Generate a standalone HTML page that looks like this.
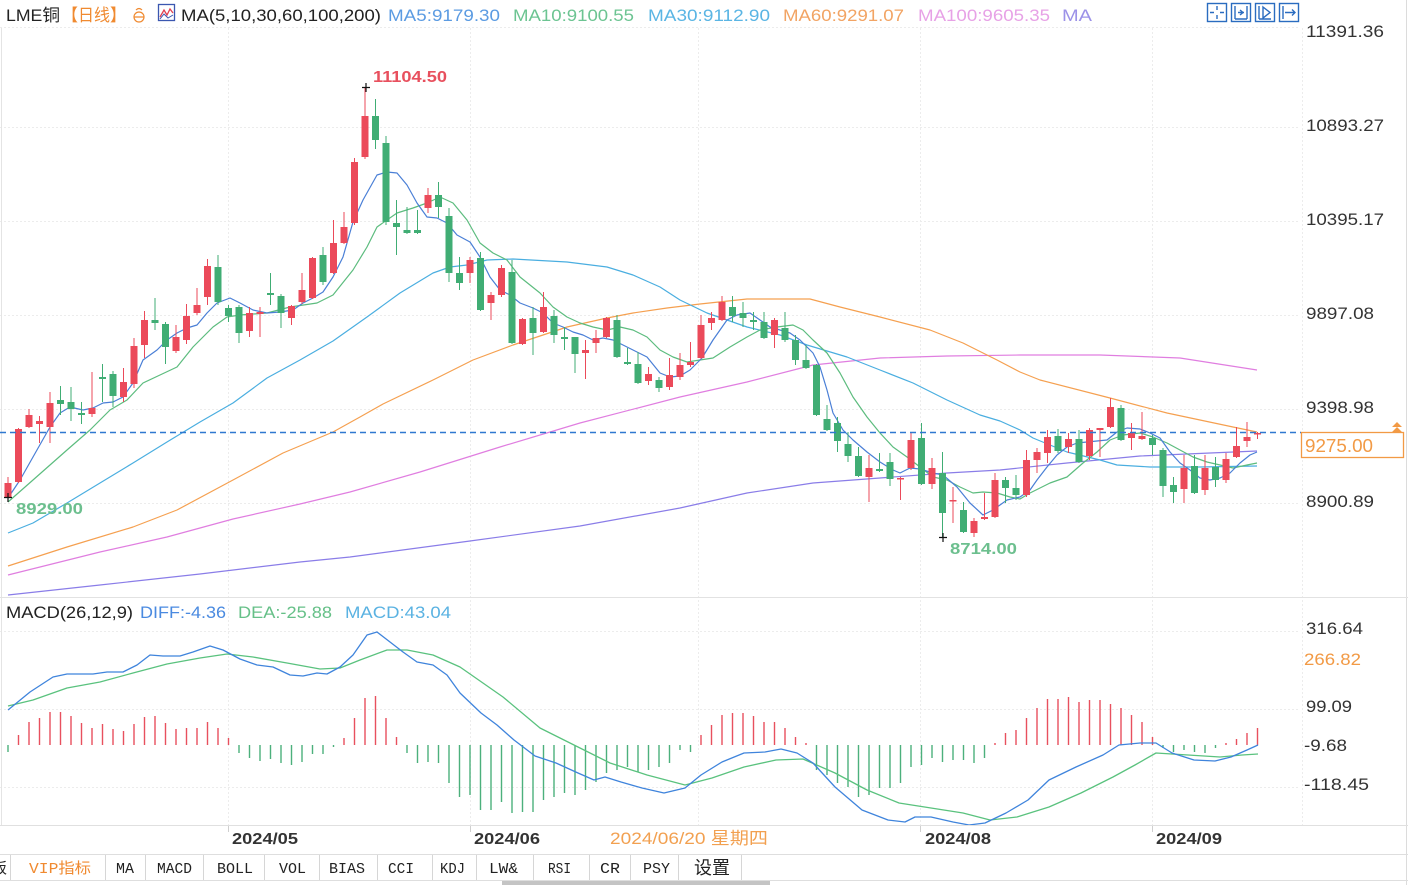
<!DOCTYPE html>
<html><head><meta charset="utf-8"><style>
html,body{margin:0;padding:0;background:#fff;}
svg{display:block;font-family:"Liberation Sans","Noto Sans CJK SC",sans-serif;}
</style></head><body>
<svg width="1408" height="885" viewBox="0 0 1408 885" xmlns="http://www.w3.org/2000/svg">
<rect x="0" y="0" width="1408" height="885" fill="#fff"/>
<!-- grid -->
<g stroke="#ececec" stroke-width="1" stroke-dasharray="2 2" fill="none">
<path d="M0 27.5H1300 M0 127.5H1300 M0 221.5H1300 M0 315.5H1300 M0 409.5H1300 M0 503.5H1300"/>
<path d="M0 631.5H1300 M0 709.5H1300 M0 787.5H1300"/>
<path d="M228.5 28V825 M470.5 28V825 M698.5 28V825 M920.5 28V825 M1152.5 28V825 M1302.5 28V825"/>
</g>
<line x1="1.5" y1="28" x2="1.5" y2="825" stroke="#e4e4e4"/>
<line x1="1406.5" y1="0" x2="1406.5" y2="885" stroke="#dcdcdc"/>
<line x1="0" y1="597.5" x2="1408" y2="597.5" stroke="#e2e2e2"/>

<!-- MA lines -->
<g fill="none" stroke-width="1.2" stroke-linejoin="round">
<polyline stroke="#8a7de8" points="8,595 100,585 200,574 300,562 350,557 470,541 580,526 680,508 747,493 813,483 880,478 947,473 1000,470 1067,463 1140,456 1257,451"/>
<polyline stroke="#e07ee0" points="8,575 100,552 167,537 233,519 300,504 350,492 420,472 500,447 580,423 680,397 747,382 813,365 880,358 947,356 1020,355 1100,355 1180,358 1257,370"/>
<polyline stroke="#f5a050" points="8,566 67,547 133,527 177,510 233,480 283,453 333,432 360,417 383,404 433,380 473,360 513,345 567,327 607,318 633,313 667,308 700,304 747,299 810,299 840,307 880,317 930,330 963,343 997,360 1020,372 1040,380 1110,398 1167,413 1233,427 1257,432"/>
<polyline stroke="#4aaee0" points="8,533 33,523 67,503 100,483 133,463 167,442 200,422 233,403 267,378 300,360 333,341 367,317 400,293 433,273 450,267 467,265 487,260 513,259 567,262 607,267 633,275 660,287 680,300 707,313 747,327 780,335 807,345 847,357 880,370 913,383 947,400 980,415 1000,421 1020,430 1033,438 1067,452 1100,460 1117,465 1150,467 1200,467 1257,466"/>
<polyline stroke="#5cbc7e" points="8,502 33,480 67,450 90,430 110,410 127,400 143,383 160,375 177,367 193,347 213,327 227,317 240,315 267,313 290,307 317,303 333,295 353,270 367,247 377,227 397,213 413,208 427,203 440,197 453,203 467,220 480,243 493,253 507,260 520,277 540,293 553,307 567,317 580,323 593,327 607,330 620,327 633,330 647,337 660,350 673,357 687,362 700,360 713,358 730,347 747,337 760,330 777,327 793,325 803,330 813,340 827,353 840,373 853,397 867,417 880,433 893,447 907,457 920,467 933,477 947,480 960,487 973,493 983,492 997,493 1010,497 1020,499 1030,493 1050,483 1067,477 1083,463 1097,452 1110,440 1123,435 1140,433 1153,437 1167,443 1180,450 1193,457 1207,462 1220,465 1233,468 1247,465 1257,463"/>
<polyline stroke="#4a7fd6" points="8,498 20,480 33,457 50,427 60,413 70,407 83,410 93,408 103,403 113,402 123,397 133,383 143,360 157,350 167,340 177,333 187,328 197,325 207,313 217,303 230,298 240,303 253,310 267,313 280,312 293,310 303,303 313,298 323,292 333,277 343,257 353,222 363,200 377,175 387,172 397,173 407,185 417,203 427,217 437,218 447,223 457,235 470,242 480,257 490,277 500,290 510,295 520,303 533,308 543,313 553,323 563,327 573,332 583,335 593,340 603,338 613,340 623,345 633,350 647,357 660,373 670,377 680,376 690,370 702,358 713,340 727,320 737,315 750,313 760,320 770,327 780,330 790,333 800,340 813,353 820,367 827,390 833,413 843,430 853,440 867,452 880,462 893,470 900,473 910,468 920,469 933,473 943,475 957,487 970,503 983,515 993,510 1007,500 1020,497 1030,490 1037,480 1047,467 1057,455 1067,447 1077,443 1087,442 1097,441 1107,440 1117,432 1127,428 1140,429 1150,433 1160,438 1170,452 1180,463 1190,470 1200,478 1210,480 1220,478 1230,473 1240,463 1250,455 1257,452"/>
</g>

<!-- red candles -->
<g fill="#eb4a5a">
<path stroke="#eb4a5a" stroke-width="1" fill="none" d="M8 477V498 M18.5 428V483 M29 409V428 M39.5 416V443 M50 392V443 M92 372V417 M123.5 368V402 M134 338V388 M144.5 311V358 M176 325V353 M186.5 304V344 M197 288V315 M207.5 259V305 M249.5 307V337 M260 307V337 M291.5 305V325 M302 273V304 M312.5 257V299 M333.5 220V274 M344 212V244 M354.5 158V225 M365 87V159 M428 188V213 M470 257V283 M491 292V320 M501.5 265V297 M522.5 318V345 M543.5 292V333 M585.5 340V379 M596 330V353 M606.5 317V338 M648.5 367V385 M669.5 358V390 M680 353V380 M690.5 342V367 M701 315V359 M711.5 312V330 M722 296V321 M774.5 318V348 M869 455V502 M900.5 477V500 M911 433V470 M932 458V489 M953 487V523 M974 518V537 M984.5 493V520 M995 473V518 M1026.5 450V497 M1037 448V473 M1047.5 430V463 M1068.5 433V453 M1089.5 428V460 M1100 428V457 M1110.5 398V428 M1131.5 423V450 M1142 412V440 M1184 455V503 M1205 455V495 M1226 453V483 M1236.5 427V458 M1247 422V447 M1257.5 432V439"/>
<rect x="4.5" y="483" width="7" height="14"/><rect x="15" y="429" width="7" height="53"/><rect x="25.5" y="415" width="7" height="12"/><rect x="36" y="421" width="7" height="3"/><rect x="46.5" y="403" width="7" height="24"/><rect x="88.5" y="408" width="7" height="6"/><rect x="120" y="382" width="7" height="15"/><rect x="130.5" y="346" width="7" height="38"/><rect x="141" y="320" width="7" height="25"/><rect x="172.5" y="337" width="7" height="14"/><rect x="183" y="316" width="7" height="24"/><rect x="193.5" y="305" width="7" height="8"/><rect x="204" y="266" width="7" height="31"/><rect x="246" y="313" width="7" height="18"/><rect x="256.5" y="312" width="7" height="2"/><rect x="288" y="306" width="7" height="12"/><rect x="298.5" y="290" width="7" height="12"/><rect x="309" y="258" width="7" height="40"/><rect x="330" y="243" width="7" height="30"/><rect x="340.5" y="227" width="7" height="16"/><rect x="351" y="162" width="7" height="61"/><rect x="361.5" y="116" width="7" height="41"/><rect x="424.5" y="195" width="7" height="13"/><rect x="466.5" y="260" width="7" height="13"/><rect x="487.5" y="295" width="7" height="8"/><rect x="498" y="268" width="7" height="27"/><rect x="519" y="319" width="7" height="25"/><rect x="540" y="307" width="7" height="25"/><rect x="582" y="350" width="7" height="3"/><rect x="592.5" y="338" width="7" height="5"/><rect x="603" y="318" width="7" height="19"/><rect x="645" y="374" width="7" height="7"/><rect x="666" y="375" width="7" height="12"/><rect x="676.5" y="365" width="7" height="12"/><rect x="687" y="362" width="7" height="3"/><rect x="697.5" y="325" width="7" height="33"/><rect x="708" y="318" width="7" height="5"/><rect x="718.5" y="302" width="7" height="18"/><rect x="771" y="320" width="7" height="15"/><rect x="865.5" y="468" width="7" height="9"/><rect x="897" y="478" width="7" height="1.5"/><rect x="907.5" y="440" width="7" height="28"/><rect x="928.5" y="468" width="7" height="16"/><rect x="949.5" y="500" width="7" height="1.5"/><rect x="970.5" y="521" width="7" height="12"/><rect x="981" y="517" width="7" height="2"/><rect x="991.5" y="480" width="7" height="37"/><rect x="1023" y="460" width="7" height="35"/><rect x="1033.5" y="452" width="7" height="8"/><rect x="1044" y="437" width="7" height="16"/><rect x="1065" y="439" width="7" height="8"/><rect x="1086" y="430" width="7" height="26"/><rect x="1096.5" y="428" width="7" height="2"/><rect x="1107" y="407" width="7" height="20"/><rect x="1128" y="433" width="7" height="5"/><rect x="1138.5" y="436" width="7" height="3"/><rect x="1180.5" y="468" width="7" height="21"/><rect x="1201.5" y="468" width="7" height="22"/><rect x="1222.5" y="459" width="7" height="21"/><rect x="1233" y="446" width="7" height="11"/><rect x="1243.5" y="437" width="7" height="4"/><rect x="1254" y="433" width="7" height="1.5"/>
</g>
<!-- green candles -->
<g fill="#40ad74">
<path stroke="#40ad74" stroke-width="1" fill="none" d="M60.5 386V415 M71 387V421 M81.5 402V424 M102.5 364V402 M113 371V407 M155 298V330 M165.5 322V364 M218 255V305 M228.5 305V322 M239 305V343 M270.5 273V305 M281 294V328 M323 247V285 M375.5 99V149 M386 136V225 M396.5 200V255 M407 207V234 M417.5 210V234 M438.5 182V218 M449 208V282 M459.5 257V290 M480.5 252V311 M512 260V344 M533 307V355 M554 310V343 M564.5 327V350 M575 337V373 M617 315V358 M627.5 348V365 M638 352V384 M659 377V392 M732.5 296V322 M743 302V327 M753.5 312V330 M764 312V339 M785 312V342 M795.5 335V365 M806 345V369 M816.5 364V416 M827 405V431 M837.5 417V452 M848 432V462 M858.5 447V477 M879.5 453V472 M890 453V486 M921.5 423V485 M942.5 452V537 M963.5 502V533 M1005.5 477V503 M1016 475V500 M1058 429V453 M1079 430V463 M1121 405V441 M1152.5 435V455 M1163 448V497 M1173.5 477V503 M1194.5 455V494 M1215.5 457V487"/>
<rect x="57" y="400" width="7" height="4"/><rect x="67.5" y="402" width="7" height="7"/><rect x="78" y="413" width="7" height="2"/><rect x="99" y="377" width="7" height="2"/><rect x="109.5" y="374" width="7" height="22"/><rect x="151.5" y="320" width="7" height="3"/><rect x="162" y="324" width="7" height="23"/><rect x="214.5" y="267" width="7" height="35"/><rect x="225" y="308" width="7" height="8"/><rect x="235.5" y="307" width="7" height="26"/><rect x="267" y="293" width="7" height="2"/><rect x="277.5" y="296" width="7" height="17"/><rect x="319.5" y="255" width="7" height="27"/><rect x="372" y="116" width="7" height="24"/><rect x="382.5" y="143" width="7" height="79"/><rect x="393" y="223" width="7" height="4"/><rect x="403.5" y="230" width="7" height="3"/><rect x="414" y="230" width="7" height="3"/><rect x="435" y="195" width="7" height="12"/><rect x="445.5" y="216" width="7" height="57"/><rect x="456" y="273" width="7" height="10"/><rect x="477" y="258" width="7" height="52"/><rect x="508.5" y="272" width="7" height="71"/><rect x="529.5" y="318" width="7" height="15"/><rect x="550.5" y="316" width="7" height="19"/><rect x="561" y="337" width="7" height="2"/><rect x="571.5" y="337" width="7" height="17"/><rect x="613.5" y="320" width="7" height="37"/><rect x="624" y="362" width="7" height="2"/><rect x="634.5" y="364" width="7" height="19"/><rect x="655.5" y="380" width="7" height="8"/><rect x="729" y="307" width="7" height="9"/><rect x="739.5" y="313" width="7" height="5"/><rect x="750" y="320" width="7" height="2"/><rect x="760.5" y="322" width="7" height="16"/><rect x="781.5" y="328" width="7" height="12"/><rect x="792" y="340" width="7" height="20"/><rect x="802.5" y="360" width="7" height="8"/><rect x="813" y="365" width="7" height="50"/><rect x="823.5" y="419" width="7" height="11"/><rect x="834" y="423" width="7" height="18"/><rect x="844.5" y="444" width="7" height="12"/><rect x="855" y="456" width="7" height="20"/><rect x="876" y="469" width="7" height="2"/><rect x="886.5" y="462" width="7" height="17"/><rect x="918" y="438" width="7" height="46"/><rect x="939" y="473" width="7" height="40"/><rect x="960" y="510" width="7" height="22"/><rect x="1002" y="480" width="7" height="8"/><rect x="1012.5" y="488" width="7" height="7"/><rect x="1054.5" y="436" width="7" height="15"/><rect x="1075.5" y="439" width="7" height="23"/><rect x="1117.5" y="408" width="7" height="32"/><rect x="1149" y="438" width="7" height="7"/><rect x="1159.5" y="450" width="7" height="36"/><rect x="1170" y="485" width="7" height="7"/><rect x="1191" y="466" width="7" height="27"/><rect x="1212" y="467" width="7" height="13"/>
</g>

<!-- last price dashed line -->
<line x1="0" y1="432.5" x2="1301" y2="432.5" stroke="#2f78d0" stroke-width="1.5" stroke-dasharray="6 4"/>
<rect x="1301.5" y="432.5" width="102" height="25" fill="#fff" stroke="#f29a45" stroke-width="1.3"/>
<text x="1305" y="452" font-size="18" fill="#f29a45" textLength="68" lengthAdjust="spacingAndGlyphs">9275.00</text>
<path d="M1392 427 L1397 422 L1402 427 Z M1392 432 L1397 427 L1402 432 Z" fill="#f29a45"/>

<!-- extreme markers -->
<g stroke="#111" stroke-width="1.2">
<path d="M362 87.5H370 M366 83V92"/>
<path d="M4 497.5H12 M8 493V502"/>
<path d="M939 537.5H947 M943 533V542"/>
</g>
<text x="373" y="82" font-size="16" font-weight="bold" fill="#e8505e" textLength="74" lengthAdjust="spacingAndGlyphs">11104.50</text>
<text x="16" y="514" font-size="16" font-weight="bold" fill="#6cbf8e" textLength="67" lengthAdjust="spacingAndGlyphs">8929.00</text>
<text x="950" y="554" font-size="16" font-weight="bold" fill="#6cbf8e" textLength="67" lengthAdjust="spacingAndGlyphs">8714.00</text>

<!-- header -->
<g font-size="17">
<text x="6" y="21" fill="#222" textLength="54" lengthAdjust="spacingAndGlyphs">LME铜</text>
<text x="62" y="21" fill="#f08a30" textLength="64" lengthAdjust="spacingAndGlyphs">【日线】</text>
<text x="181" y="21" fill="#222" textLength="200" lengthAdjust="spacingAndGlyphs">MA(5,10,30,60,100,200)</text>
<text x="388" y="21" fill="#5b9be2" textLength="112" lengthAdjust="spacingAndGlyphs">MA5:9179.30</text>
<text x="513" y="21" fill="#6cc492" textLength="121" lengthAdjust="spacingAndGlyphs">MA10:9100.55</text>
<text x="648" y="21" fill="#5ab5e4" textLength="122" lengthAdjust="spacingAndGlyphs">MA30:9112.90</text>
<text x="783" y="21" fill="#f2a464" textLength="121" lengthAdjust="spacingAndGlyphs">MA60:9291.07</text>
<text x="918" y="21" fill="#e7a2e6" textLength="132" lengthAdjust="spacingAndGlyphs">MA100:9605.35</text>
<text x="1062" y="21" fill="#9c92e8" textLength="30" lengthAdjust="spacingAndGlyphs">MA</text>
</g>
<g fill="none" stroke="#f08a30" stroke-width="1.2">
<circle cx="139" cy="17" r="5"/><path d="M134 17H144 M136 10Q139 7 142 10"/>
</g>
<rect x="158.5" y="4.5" width="16" height="16" fill="#fff" stroke="#3b57b0" stroke-width="1.3"/>
<polyline points="160,17 164,10 167,15 170,9 173,13" fill="none" stroke="#e04050" stroke-width="1.3"/>
<polyline points="160,19 164,14 168,18 173,15" fill="none" stroke="#3b57b0" stroke-width="1"/>

<!-- top-right icons -->
<g fill="none" stroke="#2a6cc0" stroke-width="1.4">
<rect x="1207.5" y="3.5" width="19" height="18"/>
<rect x="1231.5" y="3.5" width="19" height="18"/>
<rect x="1255.5" y="3.5" width="19" height="18"/>
<rect x="1279.5" y="3.5" width="19" height="18"/>
<path d="M1217 6V10 M1217 15V19 M1210 12.5H1214 M1220 12.5H1224"/>
<path d="M1235 6V19 M1247 6V19 M1238 12.5H1244 M1240 10L1243 12.5L1240 15 M1235 19H1247"/>
<path d="M1259 6V19 M1263 7L1270 12.5L1263 18Z M1259 19H1271"/>
<path d="M1283 6V19 M1285 12.5H1295 M1292 9.5L1295 12.5L1292 15.5"/>
</g>

<!-- price axis labels -->
<g font-size="17" fill="#333">
<text x="1306" y="37" textLength="78" lengthAdjust="spacingAndGlyphs">11391.36</text>
<text x="1306" y="131" textLength="78" lengthAdjust="spacingAndGlyphs">10893.27</text>
<text x="1306" y="225" textLength="78" lengthAdjust="spacingAndGlyphs">10395.17</text>
<text x="1306" y="319" textLength="68" lengthAdjust="spacingAndGlyphs">9897.08</text>
<text x="1306" y="413" textLength="68" lengthAdjust="spacingAndGlyphs">9398.98</text>
<text x="1306" y="507" textLength="68" lengthAdjust="spacingAndGlyphs">8900.89</text>
<text x="1306" y="634" textLength="57" lengthAdjust="spacingAndGlyphs">316.64</text>
<text x="1304" y="665" fill="#f29a45" textLength="57" lengthAdjust="spacingAndGlyphs">266.82</text>
<text x="1306" y="712" textLength="46" lengthAdjust="spacingAndGlyphs">99.09</text>
<text x="1304" y="751" textLength="43" lengthAdjust="spacingAndGlyphs">-9.68</text>
<text x="1304" y="790" textLength="65" lengthAdjust="spacingAndGlyphs">-118.45</text>
</g>

<!-- MACD header -->
<g font-size="17">
<text x="6" y="618" fill="#222" textLength="127" lengthAdjust="spacingAndGlyphs">MACD(26,12,9)</text>
<text x="140" y="618" fill="#4a8ae0" textLength="86" lengthAdjust="spacingAndGlyphs">DIFF:-4.36</text>
<text x="238" y="618" fill="#66c088" textLength="94" lengthAdjust="spacingAndGlyphs">DEA:-25.88</text>
<text x="345" y="618" fill="#5ab2e2" textLength="106" lengthAdjust="spacingAndGlyphs">MACD:43.04</text>
</g>

<!-- MACD histogram -->
<path stroke="#e8505e" stroke-width="1.4" fill="none" d="M18.5 745V735 M29 745V722 M39.5 745V718 M50 745V712 M60.5 745V712 M71 745V716 M81.5 745V723 M92 745V728 M102.5 745V724 M113 745V729 M123.5 745V731 M134 745V724 M144.5 745V717 M155 745V716 M165.5 745V723 M176 745V729 M186.5 745V728 M197 745V728 M207.5 745V722 M218 745V728 M228.5 745V738 M344 745V738 M354.5 745V718 M365 745V698 M375.5 745V696 M386 745V718 M396.5 745V737 M701 745V735 M711.5 745V725 M722 745V715 M732.5 745V713 M743 745V713 M753.5 745V716 M764 745V722 M774.5 745V722 M785 745V728 M795.5 745V737 M806 745V743 M995 745V743 M1005.5 745V733 M1016 745V730 M1026.5 745V718 M1037 745V708 M1047.5 745V699 M1058 745V699 M1068.5 745V697 M1079 745V702 M1089.5 745V700 M1100 745V700 M1110.5 745V704 M1121 745V708 M1131.5 745V715 M1142 745V722 M1152.5 745V737 M1226 745V743 M1236.5 745V739 M1247 745V733 M1257.5 745V728"/>
<path stroke="#4cb07c" stroke-width="1.4" fill="none" d="M8 745V752 M239 745V753 M249.5 745V758 M260 745V761 M270.5 745V759 M281 745V763 M291.5 745V765 M302 745V762 M312.5 745V754 M323 745V754 M333.5 745V747 M407 745V753 M417.5 745V763 M428 745V762 M438.5 745V763 M449 745V783 M459.5 745V797 M470 745V795 M480.5 745V810 M491 745V810 M501.5 745V802 M512 745V813 M522.5 745V812 M533 745V812 M543.5 745V800 M554 745V797 M564.5 745V793 M575 745V795 M585.5 745V790 M596 745V782 M606.5 745V773 M617 745V770 M627.5 745V767 M638 745V772 M648.5 745V770 M659 745V767 M669.5 745V763 M680 745V750 M690.5 745V752 M816.5 745V770 M827 745V775 M837.5 745V783 M848 745V787 M858.5 745V797 M869 745V795 M879.5 745V788 M890 745V788 M900.5 745V783 M911 745V767 M921.5 745V765 M932 745V758 M942.5 745V762 M953 745V760 M963.5 745V760 M974 745V763 M984.5 745V758 M1163 745V748 M1173.5 745V752 M1184 745V750 M1194.5 745V752 M1205 745V753 M1215.5 745V748"/>

<!-- DIFF / DEA -->
<g fill="none" stroke-width="1.3" stroke-linejoin="round">
<polyline stroke="#5ac27e" points="8,706 33,700 67,688 100,682 133,673 167,664 200,658 227,654 253,657 287,663 320,669 340,668 360,660 387,650 407,650 433,655 460,667 503,697 540,728 578,747 610,763 647,775 685,785 712,778 744,767 776,760 803,759 835,773 867,790 899,803 931,808 963,813 990,820 1017,817 1049,807 1081,793 1113,777 1135,765 1156,753 1188,755 1220,757 1242,755 1258,754"/>
<polyline stroke="#3f84dc" points="8,710 30,692 53,677 67,674 93,674 107,672 123,672 137,665 150,655 163,656 180,656 193,652 210,646 223,650 240,659 257,665 273,667 290,675 303,676 317,673 327,674 340,667 353,655 367,635 377,632 390,642 403,652 417,662 433,665 447,675 460,693 481,713 497,725 514,740 535,756 556,763 578,773 594,780 605,777 621,782 642,788 664,793 685,788 701,775 722,762 744,753 765,752 781,749 797,753 813,763 835,787 862,810 888,820 905,822 915,817 931,817 953,822 969,825 985,823 1006,813 1028,800 1049,780 1076,767 1103,755 1119,745 1140,743 1156,743 1172,753 1194,760 1215,761 1231,757 1247,750 1258,745"/>
</g>

<!-- date axis -->
<line x1="0" y1="825.5" x2="1408" y2="825.5" stroke="#e0e0e0"/>
<g stroke="#cfcfcf"><path d="M228.5 826V832 M470.5 826V832 M920.5 826V832 M1152.5 826V832"/></g>
<g font-size="16" font-weight="bold" fill="#333">
<text x="232" y="844" textLength="66" lengthAdjust="spacingAndGlyphs">2024/05</text>
<text x="474" y="844" textLength="66" lengthAdjust="spacingAndGlyphs">2024/06</text>
<text x="925" y="844" textLength="66" lengthAdjust="spacingAndGlyphs">2024/08</text>
<text x="1156" y="844" textLength="66" lengthAdjust="spacingAndGlyphs">2024/09</text>
</g>
<text x="610" y="844" font-size="17" fill="#f2a050" textLength="158" lengthAdjust="spacingAndGlyphs">2024/06/20 星期四</text>

<!-- tab bar -->
<line x1="0" y1="854.5" x2="1408" y2="854.5" stroke="#dedede"/>
<line x1="0" y1="880.5" x2="1408" y2="880.5" stroke="#dedede"/>
<g stroke="#d6d6d6"><path d="M10.5 855V880 M105.5 855V880 M145.5 855V880 M203.5 855V880 M264.5 855V880 M319.5 855V880 M377.5 855V880 M432.5 855V880 M476.5 855V880 M533.5 855V880 M589.5 855V880 M630.5 855V880 M678.5 855V880 M741.5 855V880"/></g>
<g font-family="'Liberation Mono','Noto Sans CJK SC',monospace" font-size="15" fill="#222">
<text x="-8" y="873">板</text>
<text x="29" y="873" fill="#f08a30" textLength="62" lengthAdjust="spacingAndGlyphs">VIP指标</text>
<text x="116" y="873" textLength="18" lengthAdjust="spacingAndGlyphs">MA</text>
<text x="157" y="873" textLength="35" lengthAdjust="spacingAndGlyphs">MACD</text>
<text x="217" y="873" textLength="36" lengthAdjust="spacingAndGlyphs">BOLL</text>
<text x="279" y="873" textLength="27" lengthAdjust="spacingAndGlyphs">VOL</text>
<text x="329" y="873" textLength="36" lengthAdjust="spacingAndGlyphs">BIAS</text>
<text x="388" y="873" textLength="26" lengthAdjust="spacingAndGlyphs">CCI</text>
<text x="440" y="873" textLength="25" lengthAdjust="spacingAndGlyphs">KDJ</text>
<text x="489" y="873" textLength="29" lengthAdjust="spacingAndGlyphs">LW&amp;</text>
<text x="548" y="873" textLength="23" lengthAdjust="spacingAndGlyphs">RSI</text>
<text x="600" y="873" textLength="20" lengthAdjust="spacingAndGlyphs">CR</text>
<text x="643" y="873" textLength="27" lengthAdjust="spacingAndGlyphs">PSY</text>
<text x="694" y="874" font-size="18" textLength="36" lengthAdjust="spacingAndGlyphs">设置</text>
</g>
<rect x="502" y="881" width="268" height="4" fill="#c4c4c4"/>
</svg>
</body></html>
